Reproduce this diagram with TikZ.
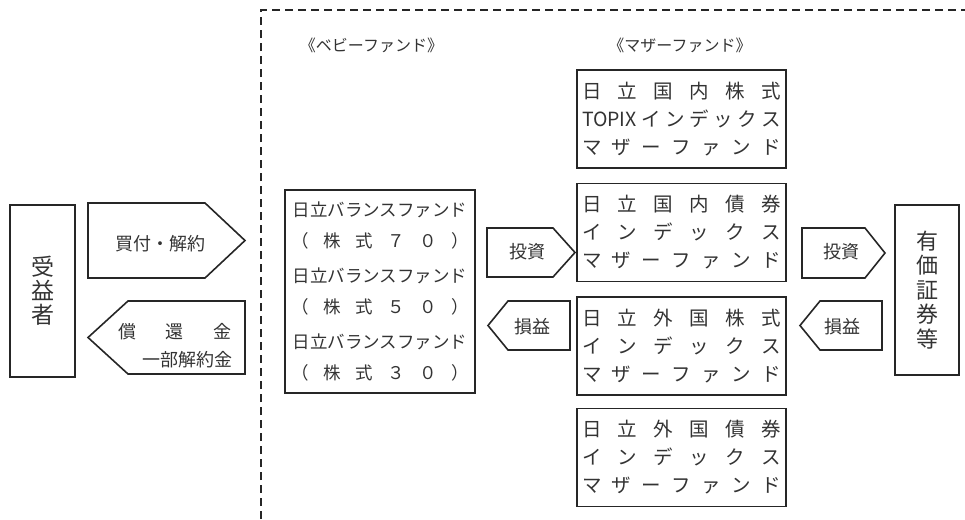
\documentclass[tikz,border=0pt]{standalone}
\usepackage{fontspec}
\setmainfont{Noto Sans CJK JP}
\tikzset{
  box/.style={draw=black!85, line width=1.7pt, inner sep=0pt},
  sign/.style={draw=black!85, line width=1.6pt, line join=miter},
  txt/.style={text=black!80, inner sep=0pt},
  mother/.style={box, minimum width=209, minimum height=98, txt, align=center,
    font=\fontsize{19.5}{28}\selectfont},
  small/.style={txt, font=\fontsize{18}{18}\selectfont},
}
\begin{document}
\begin{tikzpicture}[x=1pt, y=-1pt]
\useasboundingbox (0,0) rectangle (965,519);

% dashed frame
\draw[black!85, line width=2.5pt, dash pattern=on 8pt off 5pt] (261,519) -- (261,10) -- (965,10);

% beneficiary
\node (benef) at (42.5,291) [box, minimum width=65, minimum height=172, txt, align=center,
  font=\fontsize{23}{24}\selectfont] {受\\益\\者};

% purchase / redemption
\draw[sign] (88,203) -- (205,203) -- (245,240.5) -- (205,278) -- (88,278) -- cycle;
\node (buy) at (160,244) [small] {買付・解約};
\draw[sign] (88,337.5) -- (128,301) -- (245,301) -- (245,374) -- (128,374) -- cycle;
\node (redeem) at (175,346) [small, align=right, font=\fontsize{18}{28}\selectfont]
  {\makebox[114pt]{償\hfill 還\hfill 金}\\一部解約金};

% baby fund
\node (babylabel) at (371.5,45) [txt, font=\fontsize{16}{16}\selectfont] {《ベビーファンド》};
\node (baby) at (380,291.5) [box, line width=2.2pt, minimum width=190, minimum height=203, txt,
  align=center, font=\fontsize{17.5}{31}\selectfont]
  {日立バランスファンド\\\makebox[177pt]{（\hfill 株\hfill 式\hfill ７\hfill ０\hfill ）}\\[4pt]
   日立バランスファンド\\\makebox[177pt]{（\hfill 株\hfill 式\hfill ５\hfill ０\hfill ）}\\[4pt]
   日立バランスファンド\\\makebox[177pt]{（\hfill 株\hfill 式\hfill ３\hfill ０\hfill ）}};

\draw[sign] (487,228) -- (553,228) -- (575,252.5) -- (553,277) -- (487,277) -- cycle;
\node (inv1) at (527,252) [small] {投資};
\draw[sign] (488,325.5) -- (508,301) -- (570,301) -- (570,350) -- (508,350) -- cycle;
\node (pl1) at (532,327) [small] {損益};

% mother funds
\node (motherlabel) at (680,45) [txt, font=\fontsize{16}{16}\selectfont] {《マザーファンド》};
\node (m1) at (681.5,119) [mother]
  {\makebox[199pt]{日\hfill 立\hfill 国\hfill 内\hfill 株\hfill 式}\\
   \makebox[199pt]{TOPIX\hfill イ\hfill ン\hfill デ\hfill ッ\hfill ク\hfill ス}\\
   \makebox[199pt]{マ\hfill ザ\hfill ー\hfill フ\hfill ァ\hfill ン\hfill ド}};
\node (m2) at (681.5,232.5) [mother]
  {\makebox[199pt]{日\hfill 立\hfill 国\hfill 内\hfill 債\hfill 券}\\
   \makebox[199pt]{イ\hfill ン\hfill デ\hfill ッ\hfill ク\hfill ス}\\
   \makebox[199pt]{マ\hfill ザ\hfill ー\hfill フ\hfill ァ\hfill ン\hfill ド}};
\node (m3) at (681.5,346) [mother]
  {\makebox[199pt]{日\hfill 立\hfill 外\hfill 国\hfill 株\hfill 式}\\
   \makebox[199pt]{イ\hfill ン\hfill デ\hfill ッ\hfill ク\hfill ス}\\
   \makebox[199pt]{マ\hfill ザ\hfill ー\hfill フ\hfill ァ\hfill ン\hfill ド}};
\node (m4) at (681.5,457.5) [mother]
  {\makebox[199pt]{日\hfill 立\hfill 外\hfill 国\hfill 債\hfill 券}\\
   \makebox[199pt]{イ\hfill ン\hfill デ\hfill ッ\hfill ク\hfill ス}\\
   \makebox[199pt]{マ\hfill ザ\hfill ー\hfill フ\hfill ァ\hfill ン\hfill ド}};

\draw[sign] (802,228) -- (865,228) -- (885,253) -- (865,278) -- (802,278) -- cycle;
\node (inv2) at (841,252) [small] {投資};
\draw[sign] (800,325.5) -- (820,301) -- (882,301) -- (882,350) -- (820,350) -- cycle;
\node (pl2) at (842,327) [small] {損益};

% securities
\node (sec) at (927,290) [box, minimum width=64, minimum height=170, txt, align=center,
  font=\fontsize{22}{24.5}\selectfont] {有\\価\\証\\券\\等};
\end{tikzpicture}
\end{document}
